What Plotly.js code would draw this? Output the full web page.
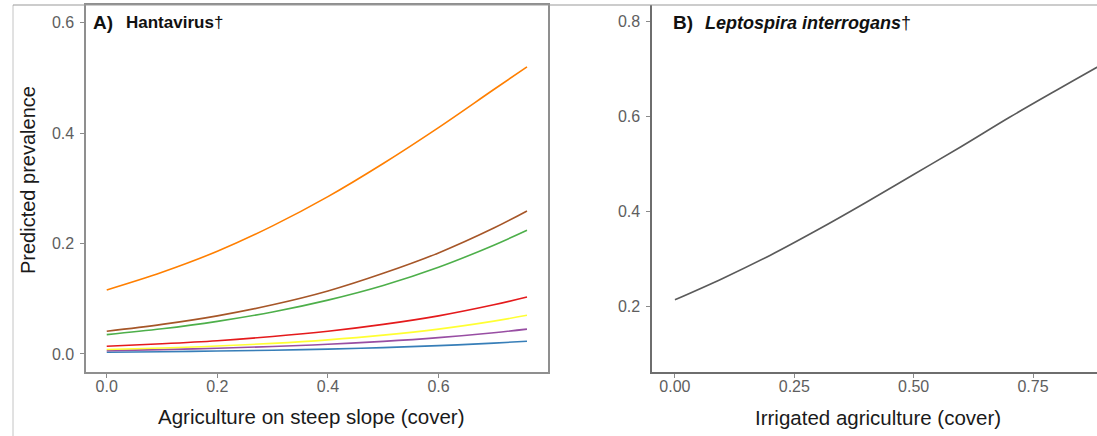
<!DOCTYPE html>
<html>
<head>
<meta charset="utf-8">
<script src="https://cdn.plot.ly/plotly-3.0.1.min.js"></script>
<style>
  html, body { margin: 0; padding: 0; background: #ffffff; }
  #chart { width: 1097px; height: 436px; }
</style>
</head>
<body>
<div id="chart"></div>
<script>
// ---------- Panel A: Hantavirus ----------
const slopeCover = [0, 0.1, 0.2, 0.3, 0.4, 0.5, 0.6, 0.7, 0.76];
const hantaBlue   = [0.003, 0.0040, 0.0052, 0.0068, 0.0088, 0.0115, 0.0150, 0.0196, 0.023];
const hantaPurple = [0.006, 0.0078, 0.0103, 0.0134, 0.0175, 0.0228, 0.0296, 0.0385, 0.045];
const hantaYellow = [0.008, 0.0107, 0.0143, 0.0191, 0.0255, 0.0340, 0.0450, 0.0595, 0.070];
const hantaRed    = [0.014, 0.0185, 0.0240, 0.0315, 0.0410, 0.0535, 0.0690, 0.0890, 0.103];
const hantaGreen  = [0.035, 0.0455, 0.0590, 0.0760, 0.0975, 0.1240, 0.1570, 0.1970, 0.224];
const hantaBrown  = [0.041, 0.0535, 0.0690, 0.0890, 0.1140, 0.1460, 0.1830, 0.2280, 0.259];
const hantaOrange = [0.116, 0.148, 0.186, 0.232, 0.285, 0.345, 0.410, 0.479, 0.520];
const seriesA = [
  {y: hantaBlue,   color: '#377EB8'},
  {y: hantaPurple, color: '#984EA3'},
  {y: hantaYellow, color: '#FFFF33'},
  {y: hantaRed,    color: '#E41A1C'},
  {y: hantaGreen,  color: '#4DAF4A'},
  {y: hantaBrown,  color: '#A65628'},
  {y: hantaOrange, color: '#FF7F00'}
];
const tickValsA = [0, 0.2, 0.4, 0.6];
const tickTextA = ['0.0', '0.2', '0.4', '0.6'];

// ---------- Panel B: Leptospira interrogans ----------
const irrigCover = [0, 0.1, 0.2, 0.3, 0.4, 0.5, 0.6, 0.7, 0.8, 0.9, 0.96];
const leptoPrev  = [0.213, 0.258, 0.307, 0.361, 0.418, 0.477, 0.536, 0.597, 0.655, 0.712, 0.745];
const tickValsBx = [0, 0.25, 0.5, 0.75];
const tickTextBx = ['0.00', '0.25', '0.50', '0.75'];
const tickValsBy = [0.2, 0.4, 0.6, 0.8];
const tickTextBy = ['0.2', '0.4', '0.6', '0.8'];

const W = 1097, H = 436;
const px = v => v / W;
const py = v => 1 - v / H;

const traces = [];
seriesA.forEach(s => traces.push({
  x: slopeCover, y: s.y, type: 'scatter', mode: 'lines', line: {color: s.color, width: 1.6, shape: 'spline'},
  xaxis: 'x', yaxis: 'y', hoverinfo: 'skip', showlegend: false
}));
traces.push({
  x: irrigCover, y: leptoPrev, type: 'scatter', mode: 'lines', line: {color: '#5a5a5a', width: 1.6, shape: 'spline'},
  xaxis: 'x2', yaxis: 'y2', hoverinfo: 'skip', showlegend: false
});

const FONT = 'Liberation Sans, Arial, Helvetica, sans-serif';
const tickFont = {family: FONT, size: 16, color: '#5e5e5e'};

const axisCommon = {
  ticks: 'outside', ticklen: 4, tickcolor: '#8a8a8a', tickwidth: 1,
  showgrid: false, zeroline: false, tickfont: tickFont, showline: true, linewidth: 1.6
};

const layout = {
  width: W, height: H,
  margin: {l: 0, r: 0, t: 0, b: 0},
  paper_bgcolor: '#ffffff', plot_bgcolor: '#ffffff',
  showlegend: false,
  xaxis: Object.assign({}, axisCommon, {
    domain: [px(86), px(548)], range: [-0.0375, 0.798], anchor: 'y', ticklabelstandoff: -5,
    tickvals: tickValsA, ticktext: tickTextA, mirror: true, linecolor: '#8f8f8f'
  }),
  yaxis: Object.assign({}, axisCommon, {
    domain: [py(372), py(5)], range: [-0.0327, 0.632], anchor: 'x', ticklabelstandoff: 3,
    tickvals: tickValsA, ticktext: tickTextA, mirror: true, linecolor: '#8f8f8f'
  }),
  xaxis2: Object.assign({}, axisCommon, {
    domain: [px(652), 1], range: [-0.048, 0.884], anchor: 'y2', ticklabelstandoff: -5,
    tickvals: tickValsBx, ticktext: tickTextBx, mirror: false, linecolor: '#6e6e6e'
  }),
  yaxis2: Object.assign({}, axisCommon, {
    domain: [py(372), py(5)], range: [0.061, 0.834], anchor: 'x2', ticklabelstandoff: 3,
    tickvals: tickValsBy, ticktext: tickTextBy, mirror: false, linecolor: '#6e6e6e'
  }),
  shapes: [
    {type: 'line', xref: 'paper', yref: 'paper', x0: px(13), x1: px(13), y0: 0, y1: py(5), line: {color: '#c4c4c4', width: 1}},
    {type: 'line', xref: 'paper', yref: 'paper', x0: px(13), x1: 1, y0: py(5), y1: py(5), line: {color: '#9a9a9a', width: 1.2}}
  ],
  annotations: [
    {text: 'Predicted prevalence', xref: 'paper', yref: 'paper', x: px(28), y: py(180), textangle: -90,
     showarrow: false, xanchor: 'center', yanchor: 'middle', font: {family: FONT, size: 20, color: '#1a1a1a'}},
    {text: 'Agriculture on steep slope (cover)', xref: 'paper', yref: 'paper', x: px(311), y: py(416),
     showarrow: false, xanchor: 'center', yanchor: 'middle', font: {family: FONT, size: 20.5, color: '#1a1a1a'}},
    {text: 'Irrigated agriculture (cover)', xref: 'paper', yref: 'paper', x: px(878), y: py(417),
     showarrow: false, xanchor: 'center', yanchor: 'middle', font: {family: FONT, size: 20.5, color: '#1a1a1a'}},
    {text: '<b>A)</b>', xref: 'paper', yref: 'paper', x: px(91), y: py(23),
     showarrow: false, xanchor: 'left', yanchor: 'middle', font: {family: FONT, size: 19, color: '#111'}},
    {text: '<b>Hantavirus</b>†', xref: 'paper', yref: 'paper', x: px(124), y: py(23),
     showarrow: false, xanchor: 'left', yanchor: 'middle', font: {family: FONT, size: 17, color: '#111'}},
    {text: '<b>B)</b>', xref: 'paper', yref: 'paper', x: px(671), y: py(23),
     showarrow: false, xanchor: 'left', yanchor: 'middle', font: {family: FONT, size: 19, color: '#111'}},
    {text: '<b><i>Leptospira interrogans</i></b>†', xref: 'paper', yref: 'paper', x: px(703), y: py(23),
     showarrow: false, xanchor: 'left', yanchor: 'middle', font: {family: FONT, size: 18, color: '#111'}}
  ]
};

Plotly.newPlot('chart', traces, layout, {staticPlot: true, displayModeBar: false});
</script>
</body>
</html>
